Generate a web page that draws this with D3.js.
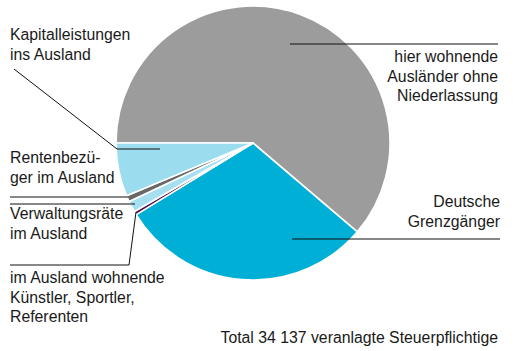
<!DOCTYPE html>
<html>
<head>
<meta charset="utf-8">
<script src="https://cdn.jsdelivr.net/npm/d3@7"></script>
<style>
  html, body { margin: 0; padding: 0; background: #fff; }
  svg { display: block; }
  text { font-family: "Liberation Sans", Arial, sans-serif; font-size: 15.8px; fill: #1a1a1a; }
</style>
</head>
<body>
<svg id="chart" width="515" height="351"></svg>
<script>
// Quellensteuer: veranlagte Steuerpflichtige nach Kategorie
const categories = [
  "hier wohnende Ausländer ohne Niederlassung",
  "Deutsche Grenzgänger",
  "im Ausland wohnende Künstler, Sportler, Referenten",
  "Verwaltungsräte im Ausland",
  "Rentenbezüger im Ausland",
  "Kapitalleistungen ins Ausland"
];
const counts = [20900, 10250, 140, 450, 250, 2147];
const colors = ["#9c9c9c", "#00afd6", "#4a1050", "#a6e0f0", "#686868", "#9bdcee"];
const totalLabel = "Total 34 137 veranlagte Steuerpflichtige";

// label lines (text) per category
const labelLines = [
  ["hier wohnende", "Ausländer ohne", "Niederlassung"],
  ["Deutsche", "Grenzgänger"],
  ["im Ausland wohnende", "Künstler, Sportler,", "Referenten"],
  ["Verwaltungsräte", "im Ausland"],
  ["Rentenbezü-", "ger im Ausland"],
  ["Kapitalleistungen", "ins Ausland"]
];

const svg = d3.select("#chart");
const cx = 253, cy = 143, radius = 137;

const pie = d3.pie()
  .sort(null)
  .value(d => d)
  .startAngle(-Math.PI / 2)
  .endAngle(Math.PI * 1.5);

const arc = d3.arc().innerRadius(0).outerRadius(radius);
const arcs = pie(counts);

const g = svg.append("g").attr("transform", `translate(${cx},${cy})`);
g.selectAll("path")
  .data(arcs)
  .join("path")
  .attr("d", arc)
  .attr("fill", (d, i) => colors[i])
  .attr("stroke", "#fff")
  .attr("stroke-width", 1.6)
  .attr("stroke-linejoin", "round");

// label placement: text anchor, first baseline, leader polyline
const layout = [
  { x: 498, y: 62, anchor: "end", line: [[290, 44], [498, 44]] },
  { x: 500, y: 207, anchor: "end", line: [[292, 239], [500, 239]] },
  { x: 10, y: 283, anchor: "start", line: [[10, 265], [129, 265], [136, 212]] },
  { x: 10, y: 219, anchor: "start", line: [[10, 204], [135, 204]] },
  { x: 10, y: 163, anchor: "start", line: [[10, 197], [128, 197]] },
  { x: 10, y: 40, anchor: "start", line: [[14, 69], [117, 149], [160, 149]] }
];
const lineHeight = 19.5;

const labels = svg.append("g");
layout.forEach((L, i) => {
  labels.append("path")
    .attr("d", d3.line()(L.line))
    .attr("fill", "none")
    .attr("stroke", "#111")
    .attr("stroke-width", 1);
  const t = labels.append("text")
    .attr("text-anchor", L.anchor);
  labelLines[i].forEach((s, k) => {
    t.append("tspan").attr("x", L.x).attr("y", L.y + k * lineHeight).text(s);
  });
});

svg.append("text")
  .attr("x", 498).attr("y", 343)
  .attr("text-anchor", "end")
  .text(totalLabel);
</script>
</body>
</html>
